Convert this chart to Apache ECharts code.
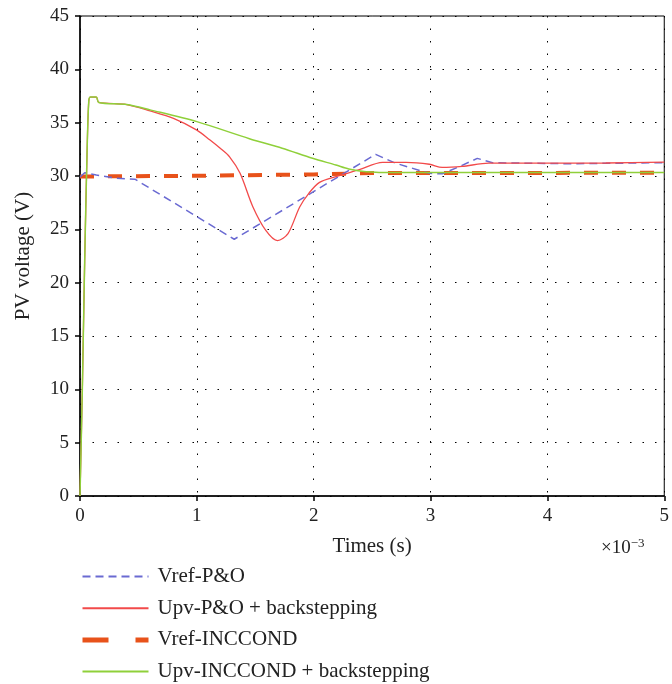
<!DOCTYPE html>
<html><head><meta charset="utf-8">
<script src="https://cdn.jsdelivr.net/npm/echarts@6/dist/echarts.min.js"></script>
<style>html,body{margin:0;padding:0;background:#fff}#c{width:672px;height:684px}</style>
</head><body><div id="c"></div>
<script>
// time in units of 1e-3 s, voltage in V
const xTicks = [0, 1, 2, 3, 4, 5];
const yTicks = [0, 5, 10, 15, 20, 25, 30, 35, 40, 45];
const seriesNames = ['Vref-P&O', 'Upv-P&O + backstepping', 'Vref-INCCOND', 'Upv-INCCOND + backstepping'];

const vrefPO = [[0,29.9],[0.04,30.3],[0.14,30.1],[0.3,29.8],[0.47,29.7],[1.32,24.07],[2.53,32.03],[2.7,31.2],[2.99,30.25],[3.1,30.2],[3.25,30.9],[3.4,31.65],[3.53,31.25],[3.8,31.2],[4.2,31.15],[4.6,31.2],[5,31.25]];
const upvPO = [[0,0],[0.02,10],[0.04,22],[0.06,32],[0.075,37],[0.09,37.4],[0.14,37.4],[0.16,36.9],[0.4,36.7],[0.6,36.1],[0.8,35.4],[1.0,34.3],[1.11,33.4],[1.2,32.6],[1.28,31.8],[1.37,30.25],[1.48,27.1],[1.59,24.9],[1.69,23.94],[1.78,24.6],[1.88,27.1],[1.96,28.4],[2.05,29.4],[2.19,29.94],[2.39,30.6],[2.59,31.28],[2.79,31.28],[2.99,31.1],[3.1,30.8],[3.27,30.9],[3.5,31.2],[4.0,31.2],[4.5,31.22],[5,31.3]];
const vrefINC = [[0,29.95],[1,30.02],[2,30.15],[2.5,30.28],[5,30.3]];
const upvINC = [[0,0],[0.02,10],[0.04,22],[0.06,32],[0.075,37],[0.09,37.4],[0.14,37.4],[0.16,36.9],[0.4,36.7],[0.6,36.2],[1.0,35.1],[1.45,33.5],[1.73,32.6],[1.99,31.66],[2.19,31.03],[2.3,30.66],[2.45,30.4],[2.7,30.32],[5,30.32]];

const serif = 'Liberation Serif';
const chart = echarts.init(document.getElementById('c'), null, {renderer:'canvas'});
const gridLine = {show:true, lineStyle:{color:'#000', type:[1.5,11], width:1}};
chart.setOption({
  animation:false,
  backgroundColor:'#fff',
  grid:{left:80, right:6, top:16, bottom:188, show:true, borderColor:'#000', borderWidth:1},
  xAxis:{type:'value', min:xTicks[0], max:xTicks[xTicks.length-1], interval:1,
    axisLine:{onZero:false, lineStyle:{color:'#000', width:1.5}},
    axisTick:{show:true, inside:false, length:5, lineStyle:{color:'#000', width:1.5}},
    axisLabel:{fontFamily:serif, fontSize:19, color:'#222', margin:11},
    splitLine:gridLine,
    name:'Times (s)', nameLocation:'middle', nameGap:40, nameTextStyle:{fontFamily:serif, fontSize:21, color:'#222'}},
  yAxis:{type:'value', min:yTicks[0], max:yTicks[yTicks.length-1], interval:5,
    axisLine:{onZero:false, lineStyle:{color:'#000', width:1.5}},
    axisTick:{show:true, inside:false, length:5, lineStyle:{color:'#000', width:1.5}},
    axisLabel:{fontFamily:serif, fontSize:19, color:'#222', margin:11},
    splitLine:gridLine,
    name:'PV voltage (V)', nameLocation:'middle', nameGap:46, nameTextStyle:{fontFamily:serif, fontSize:21, color:'#222'}},
  legend:{orient:'vertical', left:75, top:561, height:160, itemWidth:66, itemHeight:14, itemGap:10.7,
    itemStyle:{opacity:0, borderWidth:0},
    textStyle:{fontFamily:serif, fontSize:21, color:'#222', padding:[0,0,0,4]},
    data:[seriesNames[0], seriesNames[1], {name:seriesNames[2], lineStyle:{width:5, type:[26,27]}}, seriesNames[3]]},
  graphic:[{type:'text', left:601, top:537, style:{text:'{a|×10}{b|−3}', rich:{a:{fontFamily:serif, fontSize:19, fill:'#222'}, b:{fontFamily:serif, fontSize:13, fill:'#222', verticalAlign:'top', padding:[0,0,9,0]}}}}],
  series:[
    {name:seriesNames[0], type:'line', data:vrefPO, symbol:'none', z:3, lineStyle:{color:'#6a6ad2', width:1.5, type:[8,5]}, itemStyle:{color:'#6a6ad2'}},
    {name:seriesNames[1], type:'line', data:upvPO, symbol:'none', smooth:0.3, z:4, lineStyle:{color:'#f24a4a', width:1.3}, itemStyle:{color:'#f24a4a'}},
    {name:seriesNames[2], type:'line', data:vrefINC, symbol:'none', z:2, lineStyle:{color:'#e8521a', width:4, type:[14,14]}, itemStyle:{color:'#e8521a'}},
    {name:seriesNames[3], type:'line', data:upvINC, symbol:'none', smooth:0.3, z:5, lineStyle:{color:'#8fd03a', width:1.5}, itemStyle:{color:'#8fd03a'}}
  ]
});
</script></body></html>
